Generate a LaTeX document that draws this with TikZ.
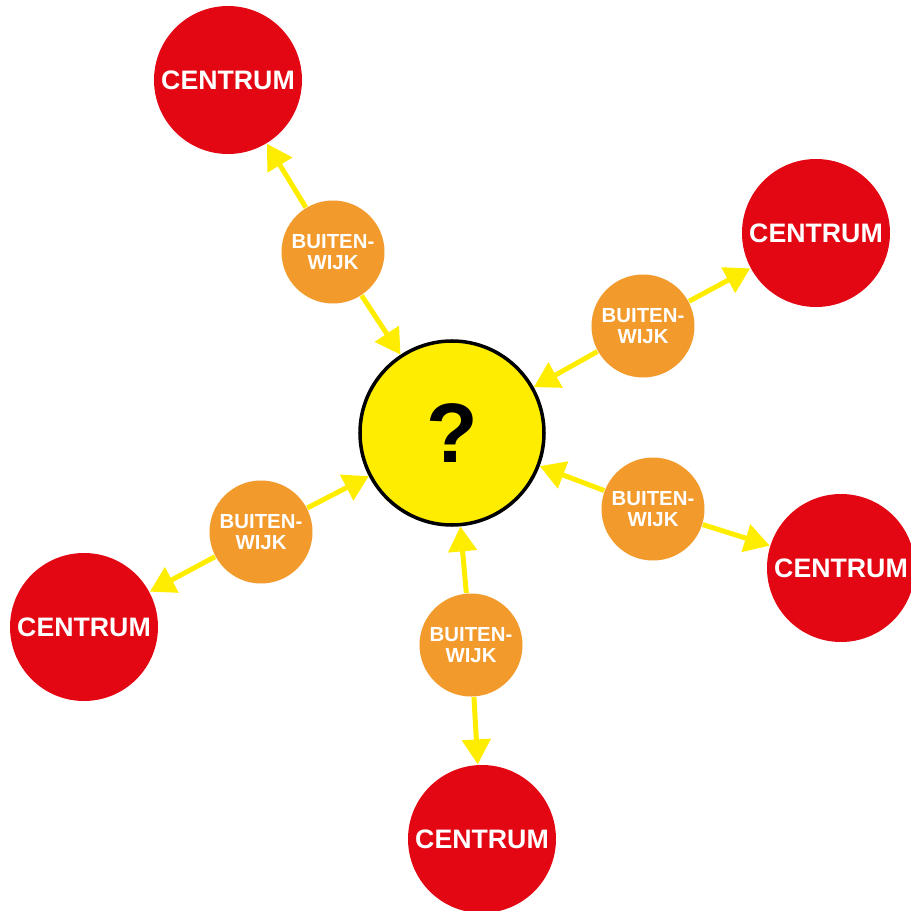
\documentclass[tikz,border=0pt]{standalone}
\usepackage{fontspec}
\setmainfont{Liberation Sans}
\usetikzlibrary{arrows.meta}

\definecolor{centrumred}{HTML}{E30613}
\definecolor{wijkorange}{HTML}{F29A2B}
\definecolor{vraaggeel}{HTML}{FFED00}

\begin{document}
\begin{tikzpicture}[
    centrum/.style={circle, fill=centrumred, text=white, minimum size=14.8mm, inner sep=0pt,
      font=\fontsize{7.6}{8}\selectfont\bfseries},
    wijk/.style={circle, fill=wijkorange, text=white, minimum size=10.3mm, inner sep=0pt,
      align=center, font=\fontsize{5.8}{5.8}\selectfont\bfseries},
    pijl/.style={draw=vraaggeel, line width=0.5mm, -{Triangle[length=2.5mm, width=2.8mm]}}
  ]
  \useasboundingbox (0, 0) rectangle (9.11, 9.11);

  % Middle: the unknown
  \node[circle, draw, line width=1pt, fill=vraaggeel, minimum size=18.4mm, inner sep=0pt,
    font=\fontsize{24}{24}\selectfont\bfseries] (vraag) at (4.52, 4.78) {?};

  % Five city centres around it
  \node[centrum] (c1) at (2.28, 8.31) {CENTRUM};
  \node[centrum] (c2) at (8.16, 6.78) {CENTRUM};
  \node[centrum] (c3) at (8.41, 3.43) {CENTRUM};
  \node[centrum] (c4) at (4.82, 0.72) {CENTRUM};
  \node[centrum] (c5) at (0.84, 2.84) {CENTRUM};

  % Suburbs in between
  \node[wijk] (b1) at (3.33, 6.59) {BUITEN-\\WIJK};
  \node[wijk] (b2) at (6.43, 5.85) {BUITEN-\\WIJK};
  \node[wijk] (b3) at (6.53, 4.02) {BUITEN-\\WIJK};
  \node[wijk] (b4) at (4.71, 2.66) {BUITEN-\\WIJK};
  \node[wijk] (b5) at (2.61, 3.79) {BUITEN-\\WIJK};

  % Each suburb points both ways
  \foreach \i in {1,...,5} {
    \draw[pijl] (b\i) -- (c\i);
    \draw[pijl] (b\i) -- (vraag);
  }
\end{tikzpicture}
\end{document}
